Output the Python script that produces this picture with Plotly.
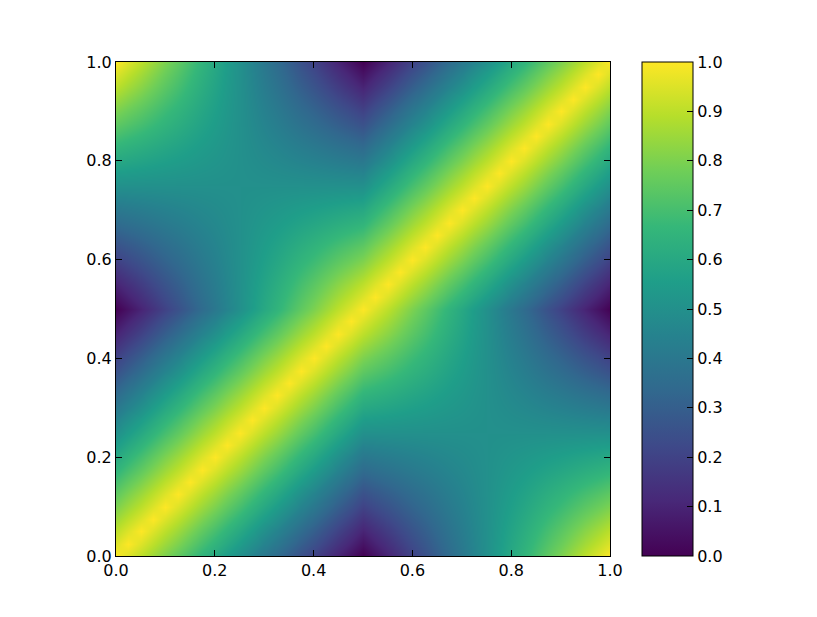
import plotly.graph_objects as go

# grid positions (0.025 step) on both axes
x_vals = [0.0, 0.025, 0.05, 0.075, 0.1, 0.125, 0.15, 0.175, 0.2, 0.225, 0.25,
          0.275, 0.3, 0.325, 0.35, 0.375, 0.4, 0.425, 0.45, 0.475, 0.5,
          0.525, 0.55, 0.575, 0.6, 0.625, 0.65, 0.675, 0.7, 0.725, 0.75,
          0.775, 0.8, 0.825, 0.85, 0.875, 0.9, 0.925, 0.95, 0.975, 1.0]
y_vals = list(x_vals)

# values, one row per y (bottom to top)
z_rows = [
    [1, .95, .9, .85, .8, .75, .7, .65, .6, .55, .5, .45, .4, .35, .3, .25, .2, .15, .1, .05, 0, .05, .1, .15, .2, .25, .3, .35, .4, .45, .5, .55, .6, .65, .7, .75, .8, .85, .9, .95, 1],
    [.95, 1, .95, .9, .85, .8, .75, .7, .65, .6, .55, .5, .45, .4, .35, .3, .25, .2, .15, .1, .05, .095, .14, .185, .23, .275, .32, .365, .41, .455, .5, .545, .59, .635, .68, .725, .77, .815, .86, .905, .95],
    [.9, .95, 1, .95, .9, .85, .8, .75, .7, .65, .6, .55, .5, .45, .4, .35, .3, .25, .2, .15, .1, .14, .18, .22, .26, .3, .34, .38, .42, .46, .5, .54, .58, .62, .66, .7, .74, .78, .82, .86, .9],
    [.85, .9, .95, 1, .95, .9, .85, .8, .75, .7, .65, .6, .55, .5, .45, .4, .35, .3, .25, .2, .15, .185, .22, .255, .29, .325, .36, .395, .43, .465, .5, .535, .57, .605, .64, .675, .71, .745, .78, .815, .85],
    [.8, .85, .9, .95, 1, .95, .9, .85, .8, .75, .7, .65, .6, .55, .5, .45, .4, .35, .3, .25, .2, .23, .26, .29, .32, .35, .38, .41, .44, .47, .5, .53, .56, .59, .62, .65, .68, .71, .74, .77, .8],
    [.75, .8, .85, .9, .95, 1, .95, .9, .85, .8, .75, .7, .65, .6, .55, .5, .45, .4, .35, .3, .25, .275, .3, .325, .35, .375, .4, .425, .45, .475, .5, .525, .55, .575, .6, .625, .65, .675, .7, .725, .75],
    [.7, .75, .8, .85, .9, .95, 1, .95, .9, .85, .8, .75, .7, .65, .6, .55, .5, .45, .4, .35, .3, .32, .34, .36, .38, .4, .42, .44, .46, .48, .5, .52, .54, .56, .58, .6, .62, .64, .66, .68, .7],
    [.65, .7, .75, .8, .85, .9, .95, 1, .95, .9, .85, .8, .75, .7, .65, .6, .55, .5, .45, .4, .35, .365, .38, .395, .41, .425, .44, .455, .47, .485, .5, .515, .53, .545, .56, .575, .59, .605, .62, .635, .65],
    [.6, .65, .7, .75, .8, .85, .9, .95, 1, .95, .9, .85, .8, .75, .7, .65, .6, .55, .5, .45, .4, .41, .42, .43, .44, .45, .46, .47, .48, .49, .5, .51, .52, .53, .54, .55, .56, .57, .58, .59, .6],
    [.55, .6, .65, .7, .75, .8, .85, .9, .95, 1, .95, .9, .85, .8, .75, .7, .65, .6, .55, .5, .45, .455, .46, .465, .47, .475, .48, .485, .49, .495, .5, .505, .51, .515, .52, .525, .53, .535, .54, .545, .55],
    [.5, .55, .6, .65, .7, .75, .8, .85, .9, .95, 1, .95, .9, .85, .8, .75, .7, .65, .6, .55, .5, .5, .5, .5, .5, .5, .5, .5, .5, .5, .5, .5, .5, .5, .5, .5, .5, .5, .5, .5, .5],
    [.45, .5, .55, .6, .65, .7, .75, .8, .85, .9, .95, 1, .95, .9, .85, .8, .75, .7, .65, .6, .55, .545, .54, .535, .53, .525, .52, .515, .51, .505, .5, .495, .49, .485, .48, .475, .47, .465, .46, .455, .45],
    [.4, .45, .5, .55, .6, .65, .7, .75, .8, .85, .9, .95, 1, .95, .9, .85, .8, .75, .7, .65, .6, .59, .58, .57, .56, .55, .54, .53, .52, .51, .5, .49, .48, .47, .46, .45, .44, .43, .42, .41, .4],
    [.35, .4, .45, .5, .55, .6, .65, .7, .75, .8, .85, .9, .95, 1, .95, .9, .85, .8, .75, .7, .65, .635, .62, .605, .59, .575, .56, .545, .53, .515, .5, .485, .47, .455, .44, .425, .41, .395, .38, .365, .35],
    [.3, .35, .4, .45, .5, .55, .6, .65, .7, .75, .8, .85, .9, .95, 1, .95, .9, .85, .8, .75, .7, .68, .66, .64, .62, .6, .58, .56, .54, .52, .5, .48, .46, .44, .42, .4, .38, .36, .34, .32, .3],
    [.25, .3, .35, .4, .45, .5, .55, .6, .65, .7, .75, .8, .85, .9, .95, 1, .95, .9, .85, .8, .75, .725, .7, .675, .65, .625, .6, .575, .55, .525, .5, .475, .45, .425, .4, .375, .35, .325, .3, .275, .25],
    [.2, .25, .3, .35, .4, .45, .5, .55, .6, .65, .7, .75, .8, .85, .9, .95, 1, .95, .9, .85, .8, .77, .74, .71, .68, .65, .62, .59, .56, .53, .5, .47, .44, .41, .38, .35, .32, .29, .26, .23, .2],
    [.15, .2, .25, .3, .35, .4, .45, .5, .55, .6, .65, .7, .75, .8, .85, .9, .95, 1, .95, .9, .85, .815, .78, .745, .71, .675, .64, .605, .57, .535, .5, .465, .43, .395, .36, .325, .29, .255, .22, .185, .15],
    [.1, .15, .2, .25, .3, .35, .4, .45, .5, .55, .6, .65, .7, .75, .8, .85, .9, .95, 1, .95, .9, .86, .82, .78, .74, .7, .66, .62, .58, .54, .5, .46, .42, .38, .34, .3, .26, .22, .18, .14, .1],
    [.05, .1, .15, .2, .25, .3, .35, .4, .45, .5, .55, .6, .65, .7, .75, .8, .85, .9, .95, 1, .95, .905, .86, .815, .77, .725, .68, .635, .59, .545, .5, .455, .41, .365, .32, .275, .23, .185, .14, .095, .05],
    [0, .05, .1, .15, .2, .25, .3, .35, .4, .45, .5, .55, .6, .65, .7, .75, .8, .85, .9, .95, 1, .95, .9, .85, .8, .75, .7, .65, .6, .55, .5, .45, .4, .35, .3, .25, .2, .15, .1, .05, 0],
    [.05, .095, .14, .185, .23, .275, .32, .365, .41, .455, .5, .545, .59, .635, .68, .725, .77, .815, .86, .905, .95, 1, .95, .9, .85, .8, .75, .7, .65, .6, .55, .5, .45, .4, .35, .3, .25, .2, .15, .1, .05],
    [.1, .14, .18, .22, .26, .3, .34, .38, .42, .46, .5, .54, .58, .62, .66, .7, .74, .78, .82, .86, .9, .95, 1, .95, .9, .85, .8, .75, .7, .65, .6, .55, .5, .45, .4, .35, .3, .25, .2, .15, .1],
    [.15, .185, .22, .255, .29, .325, .36, .395, .43, .465, .5, .535, .57, .605, .64, .675, .71, .745, .78, .815, .85, .9, .95, 1, .95, .9, .85, .8, .75, .7, .65, .6, .55, .5, .45, .4, .35, .3, .25, .2, .15],
    [.2, .23, .26, .29, .32, .35, .38, .41, .44, .47, .5, .53, .56, .59, .62, .65, .68, .71, .74, .77, .8, .85, .9, .95, 1, .95, .9, .85, .8, .75, .7, .65, .6, .55, .5, .45, .4, .35, .3, .25, .2],
    [.25, .275, .3, .325, .35, .375, .4, .425, .45, .475, .5, .525, .55, .575, .6, .625, .65, .675, .7, .725, .75, .8, .85, .9, .95, 1, .95, .9, .85, .8, .75, .7, .65, .6, .55, .5, .45, .4, .35, .3, .25],
    [.3, .32, .34, .36, .38, .4, .42, .44, .46, .48, .5, .52, .54, .56, .58, .6, .62, .64, .66, .68, .7, .75, .8, .85, .9, .95, 1, .95, .9, .85, .8, .75, .7, .65, .6, .55, .5, .45, .4, .35, .3],
    [.35, .365, .38, .395, .41, .425, .44, .455, .47, .485, .5, .515, .53, .545, .56, .575, .59, .605, .62, .635, .65, .7, .75, .8, .85, .9, .95, 1, .95, .9, .85, .8, .75, .7, .65, .6, .55, .5, .45, .4, .35],
    [.4, .41, .42, .43, .44, .45, .46, .47, .48, .49, .5, .51, .52, .53, .54, .55, .56, .57, .58, .59, .6, .65, .7, .75, .8, .85, .9, .95, 1, .95, .9, .85, .8, .75, .7, .65, .6, .55, .5, .45, .4],
    [.45, .455, .46, .465, .47, .475, .48, .485, .49, .495, .5, .505, .51, .515, .52, .525, .53, .535, .54, .545, .55, .6, .65, .7, .75, .8, .85, .9, .95, 1, .95, .9, .85, .8, .75, .7, .65, .6, .55, .5, .45],
    [.5, .5, .5, .5, .5, .5, .5, .5, .5, .5, .5, .5, .5, .5, .5, .5, .5, .5, .5, .5, .5, .55, .6, .65, .7, .75, .8, .85, .9, .95, 1, .95, .9, .85, .8, .75, .7, .65, .6, .55, .5],
    [.55, .545, .54, .535, .53, .525, .52, .515, .51, .505, .5, .495, .49, .485, .48, .475, .47, .465, .46, .455, .45, .5, .55, .6, .65, .7, .75, .8, .85, .9, .95, 1, .95, .9, .85, .8, .75, .7, .65, .6, .55],
    [.6, .59, .58, .57, .56, .55, .54, .53, .52, .51, .5, .49, .48, .47, .46, .45, .44, .43, .42, .41, .4, .45, .5, .55, .6, .65, .7, .75, .8, .85, .9, .95, 1, .95, .9, .85, .8, .75, .7, .65, .6],
    [.65, .635, .62, .605, .59, .575, .56, .545, .53, .515, .5, .485, .47, .455, .44, .425, .41, .395, .38, .365, .35, .4, .45, .5, .55, .6, .65, .7, .75, .8, .85, .9, .95, 1, .95, .9, .85, .8, .75, .7, .65],
    [.7, .68, .66, .64, .62, .6, .58, .56, .54, .52, .5, .48, .46, .44, .42, .4, .38, .36, .34, .32, .3, .35, .4, .45, .5, .55, .6, .65, .7, .75, .8, .85, .9, .95, 1, .95, .9, .85, .8, .75, .7],
    [.75, .725, .7, .675, .65, .625, .6, .575, .55, .525, .5, .475, .45, .425, .4, .375, .35, .325, .3, .275, .25, .3, .35, .4, .45, .5, .55, .6, .65, .7, .75, .8, .85, .9, .95, 1, .95, .9, .85, .8, .75],
    [.8, .77, .74, .71, .68, .65, .62, .59, .56, .53, .5, .47, .44, .41, .38, .35, .32, .29, .26, .23, .2, .25, .3, .35, .4, .45, .5, .55, .6, .65, .7, .75, .8, .85, .9, .95, 1, .95, .9, .85, .8],
    [.85, .815, .78, .745, .71, .675, .64, .605, .57, .535, .5, .465, .43, .395, .36, .325, .29, .255, .22, .185, .15, .2, .25, .3, .35, .4, .45, .5, .55, .6, .65, .7, .75, .8, .85, .9, .95, 1, .95, .9, .85],
    [.9, .86, .82, .78, .74, .7, .66, .62, .58, .54, .5, .46, .42, .38, .34, .3, .26, .22, .18, .14, .1, .15, .2, .25, .3, .35, .4, .45, .5, .55, .6, .65, .7, .75, .8, .85, .9, .95, 1, .95, .9],
    [.95, .905, .86, .815, .77, .725, .68, .635, .59, .545, .5, .455, .41, .365, .32, .275, .23, .185, .14, .095, .05, .1, .15, .2, .25, .3, .35, .4, .45, .5, .55, .6, .65, .7, .75, .8, .85, .9, .95, 1, .95],
    [1, .95, .9, .85, .8, .75, .7, .65, .6, .55, .5, .45, .4, .35, .3, .25, .2, .15, .1, .05, 0, .05, .1, .15, .2, .25, .3, .35, .4, .45, .5, .55, .6, .65, .7, .75, .8, .85, .9, .95, 1],
]

axis_ticks = [0.0, 0.2, 0.4, 0.6, 0.8, 1.0]
cbar_ticks = [0.0, 0.1, 0.2, 0.3, 0.4, 0.5, 0.6, 0.7, 0.8, 0.9, 1.0]

FONT = dict(family="DejaVu Sans, Arial, sans-serif", size=16, color="black")

fig = go.Figure(go.Heatmap(
    x=x_vals, y=y_vals, z=z_rows,
    colorscale="Viridis", zmin=0, zmax=1,
    zsmooth="best",
    colorbar=dict(
        x=1.0648, xanchor="left", xpad=0,
        y=0.5, yanchor="middle", ypad=0,
        len=1, lenmode="fraction",
        thickness=51, thicknessmode="pixels",
        outlinewidth=1, outlinecolor="black",
        tickvals=cbar_ticks, tickformat=".1f",
        ticks="inside", ticklen=6, tickwidth=1, tickcolor="black",
        tickfont=FONT,
    ),
))

axis_style = dict(
    range=[0, 1], tickvals=axis_ticks, tickformat=".1f",
    ticks="inside", ticklen=6, tickwidth=1, tickcolor="black",
    showline=True, linecolor="black", linewidth=1, mirror="ticks",
    showgrid=False, zeroline=False, tickfont=FONT,
)

fig.update_xaxes(**axis_style)
fig.update_yaxes(**axis_style)

# page is offset by the body margin, so the margins are shifted a bit
fig.update_layout(
    width=817, height=617,
    margin=dict(l=108, r=215, t=54, b=69),
    paper_bgcolor="white", plot_bgcolor="white",
    font=FONT,
)

fig.write_html("out.html")
